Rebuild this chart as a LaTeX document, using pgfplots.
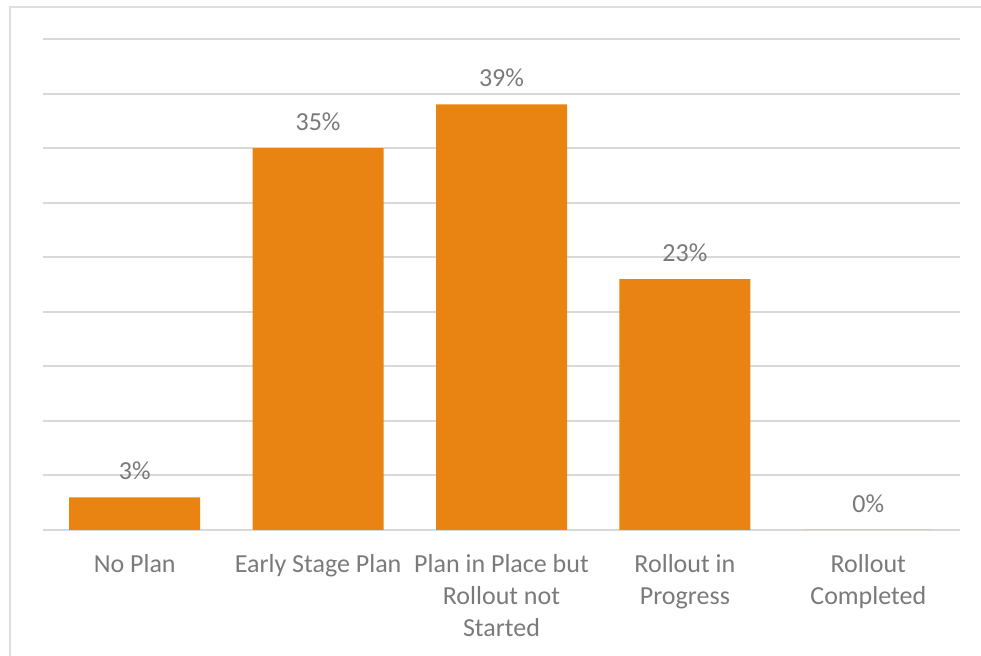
\documentclass[border=0pt]{standalone}
\usepackage{pgfplots}
\pgfplotsset{compat=1.18}
\usepackage{fontspec}
\setmainfont{Carlito}

\definecolor{barorange}{RGB}{233,131,18}
\definecolor{gridgray}{RGB}{217,217,217}
\definecolor{textgray}{RGB}{122,122,122}
\definecolor{framegray}{RGB}{222,222,222}

\begin{document}
\begin{tikzpicture}[x=0.75pt, y=0.75pt]
  \path[use as bounding box] (0,0) rectangle (981,656);
  \clip (0,0) rectangle (981,656);
  % chart frame, running off the lower and right edges
  \draw[framegray, line width=1.5pt] (10,649) rectangle (1000,-30);
  \begin{axis}[
    at={(32.25pt,94.5pt)}, anchor=south west,
    scale only axis,
    width=687.75pt, height=368.25pt,
    ymin=0, ymax=45,
    xmin=-0.5, xmax=4.5,
    ytick={0,5,...,45},
    yticklabels={},
    ymajorgrids,
    grid style={gridgray, line width=1.5pt},
    axis line style={draw=none},
    major tick length=0pt,
    /pgf/number format/assume math mode=true,
    xtick=data,
    xticklabels={No Plan, Early Stage Plan, {Plan in Place but\\Rollout not\\Started}, {Rollout in\\Progress}, {Rollout\\Completed}},
    xticklabel style={align=center, font=\fontsize{19.5pt}{24pt}\selectfont, text=textgray, anchor=north, yshift=-15pt},
    ybar, bar width=98.25pt,
    nodes near coords={\pgfmathprintnumber{\pgfplotspointmeta}\%},
    nodes near coords style={font=\fontsize{19.5pt}{24pt}\selectfont, text=textgray, anchor=south, yshift=9.5pt},
    clip=false,
  ]
    \addplot[fill=barorange, draw=none] coordinates {(0,3) (1,35) (2,39) (3,23) (4,0)};
  \end{axis}
\end{tikzpicture}
\end{document}
